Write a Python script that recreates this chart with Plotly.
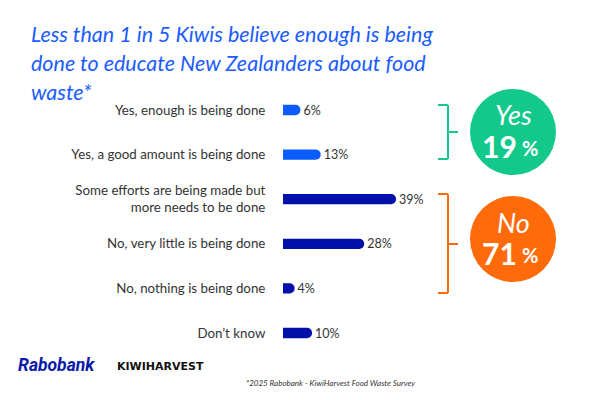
import plotly.graph_objects as go

categories = [
    "Yes, enough is being done",
    "Yes, a good amount is being done",
    "Some efforts are being made but<br>more needs to be done",
    "No, very little is being done",
    "No, nothing is being done",
    "Don’t know",
]
values = [6, 13, 39, 28, 4, 10]
bar_colors = ["#0a5cff", "#0a5cff", "#0010a8", "#0010a8", "#0010a8", "#0010a8"]
value_labels = [f"{v}%" for v in values]

yes_total = 19
no_total = 71

title_lines = [
    "Less than 1 in 5 Kiwis believe enough is being",
    "done to educate New Zealanders about food",
    "waste*",
]

W, H = 600, 400
x0_px = 283
px_per_pct = 2.9
row0_px, row_step = 110, 44.6

ypos = list(range(len(categories)))

fig = go.Figure()
fig.add_trace(go.Bar(
    x=values, y=ypos, orientation="h",
    marker=dict(color=bar_colors, cornerradius="50%", line=dict(width=0)),
    width=0.23,
    text=value_labels, textposition="outside", constraintext="none",
    textfont=dict(family="Lato", size=12.5, color="#333333"),
    cliponaxis=False, hoverinfo="skip",
))

top_i = -row0_px / row_step
bot_i = (H - row0_px) / row_step

fig.update_layout(
    width=W, height=H,
    margin=dict(l=0, r=0, t=0, b=0),
    paper_bgcolor="white", plot_bgcolor="rgba(0,0,0,0)",
    showlegend=False,
    font=dict(family="Lato", color="#333333"),
    xaxis=dict(domain=[x0_px / W, 1], range=[0, (W - x0_px) / px_per_pct],
               visible=False, fixedrange=True),
    yaxis=dict(domain=[0, 1], range=[bot_i, top_i],
               tickvals=ypos, ticktext=categories,
               ticks="outside", ticklen=14, tickcolor="rgba(0,0,0,0)",
               tickfont=dict(family="Lato", size=13.3, color="#333333"),
               showgrid=False, zeroline=False, showline=False, fixedrange=True),
)

def px(x):
    return x / W

def py(y):
    return 1 - y / H

def note(text, x, y, size, color, family="Lato", xanchor="center"):
    fig.add_annotation(text=text, xref="paper", yref="paper",
                       x=px(x), y=py(y), xanchor=xanchor, yanchor="middle",
                       showarrow=False, borderpad=0,
                       font=dict(family=family, size=size, color=color))

# title
for i, line in enumerate(title_lines):
    note(f"<i>{line}</i>", 30, 34 + 29 * i, 21.5, "#1a5cff", xanchor="left")

green, orange = "#12c98b", "#ff6a0a"

# brackets
def bracket(top, bot, mid, color):
    xs = 448
    for (xa, xb, ya, yb) in [(438, xs, top, top), (438, xs, bot, bot),
                             (xs, xs, top, bot), (xs, 458, mid, mid)]:
        fig.add_shape(type="line", xref="paper", yref="paper",
                      x0=px(xa), x1=px(xb), y0=py(ya), y1=py(yb),
                      line=dict(color=color, width=2))

bracket(105, 159, 132, green)
bracket(194, 293, 244, orange)

def bubble(cx, cy, r, color, word, total):
    fig.add_shape(type="circle", xref="paper", yref="paper",
                  x0=px(cx - r), x1=px(cx + r), y0=py(cy + r), y1=py(cy - r),
                  fillcolor=color, line=dict(width=0))
    note(f"<i>{word}</i>", cx, cy - 17, 27, "white")
    note(f"<b>{total}</b>", cx + 5, cy + 14, 30, "white", xanchor="right")
    note("<b>%</b>", cx + 8, cy + 16, 20, "white", xanchor="left")

bubble(513, 132, 43, green, "Yes", yes_total)
bubble(513, 239, 43, orange, "No", no_total)

# logos and footnote
note("<b><i>Rabobank</i></b>", 17, 365, 17.5, "#0a1aa8", family="Roboto", xanchor="left")
note("<b>KIWIHARVEST</b>", 116, 366, 11, "#111111", family="DejaVu Sans", xanchor="left")
note("<i>*2025 Rabobank - KiwiHarvest Food Waste Survey</i>", 330, 383, 8, "#333333")

fig.write_html("out.html", config={"displayModeBar": False},
               post_script="document.body.style.margin='0';")
